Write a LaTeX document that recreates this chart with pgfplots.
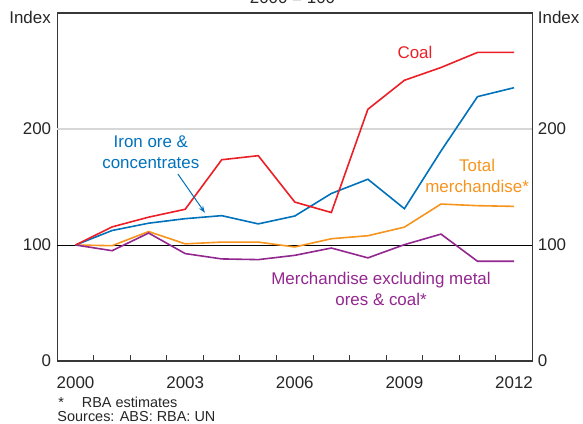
\documentclass[border=0pt]{standalone}
\usepackage{fontspec}
\setmainfont{Liberation Sans}
\usepackage{pgfplots}
\usepackage{pgfplotstable}
\usetikzlibrary{arrows.meta}
\pgfplotsset{compat=1.18}

\definecolor{rbared}{RGB}{235,32,39}
\definecolor{rbablue}{RGB}{0,114,188}
\definecolor{rbaorange}{RGB}{247,148,29}
\definecolor{rbapurple}{RGB}{146,39,143}
\definecolor{framegray}{RGB}{55,55,55}
\definecolor{gridgray}{RGB}{215,215,215}

% export price indices, 2000 = 100
\pgfplotstableread{
year coal  iron  total other
2000 100   100   100   100
2001 115.6 112.5 99.4  95.1
2002 124.0 118.8 111.6 110.3
2003 130.8 122.7 101.0 92.6
2004 173.5 125.3 102.5 88.0
2005 177.0 118.2 102.5 87.4
2006 137.0 125.0 98.3  91.1
2007 128.0 144.4 105.4 97.4
2008 217.0 156.7 108.0 88.9
2009 242.0 131.3 115.4 100.3
2010 253.0 181.0 135.3 109.4
2011 266.0 227.9 133.9 86.0
2012 266.0 235.6 133.3 86.0
}\exports

\newcommand{\lbl}{\fontsize{17}{20.6}\selectfont}
\newcommand{\foot}{\fontsize{14.5}{16}\selectfont}

\begin{document}
\begin{tikzpicture}
\begin{axis}[
  width=475bp, height=348bp, scale only axis,
  xmin=1999.5, xmax=2012.5, ymin=0, ymax=300,
  xtick={2000,2003,...,2012},
  minor xtick={1999.5,2000.5,...,2012.5},
  xtick pos=bottom, tick align=inside,
  major tick length=0pt, minor tick length=6bp,
  ytick={0,100,200}, ytick pos=left,
  axis line style={framegray, line width=1.2bp},
  tick style={framegray, line width=1bp},
  /pgf/number format/assume math mode=true,
  /pgf/number format/1000 sep={},
  ticklabel style={font=\lbl, text=black!85},
  x tick label style={inner sep=0pt, anchor=north, yshift=-15.5bp},
  y tick label style={inner sep=0pt, anchor=east, xshift=-6bp},
  clip=false,
]
\draw[gridgray, line width=1.5bp] (axis cs:1999.5,200) -- (axis cs:2012.5,200);
\draw[black, line width=1bp] (axis cs:1999.5,100) -- (axis cs:2012.5,100);

\addplot[rbaorange, line width=1.6bp] table[x=year, y=total] {\exports};
\addplot[rbapurple, line width=1.6bp] table[x=year, y=other] {\exports};
\addplot[rbablue, line width=1.6bp] table[x=year, y=iron] {\exports};
\addplot[rbared, line width=1.6bp] table[x=year, y=coal] {\exports};

\draw[rbablue, line width=1bp, -{Stealth[length=7bp,width=5bp]}] (axis cs:2002.80,161.2) -- (axis cs:2003.54,127.8);

\node[rbared, font=\lbl] at (axis cs:2009.29,266.4) {Coal};
\node[rbablue, font=\lbl, align=center] at (axis cs:2002.06,180.2) {Iron ore \&\\concentrates};
\node[rbaorange, font=\lbl, align=center] at (axis cs:2010.99,159.5) {Total\\merchandise*};
\node[rbapurple, font=\lbl, align=center] at (axis cs:2008.36,62) {Merchandise excluding metal\\ores \& coal*};

\node[font=\lbl, text=black!85, anchor=west, inner sep=0pt] at (axis cs:2012.5,0) [xshift=5.4bp] {0};
\node[font=\lbl, text=black!85, anchor=west, inner sep=0pt] at (axis cs:2012.5,100) [xshift=5.4bp] {100};
\node[font=\lbl, text=black!85, anchor=west, inner sep=0pt] at (axis cs:2012.5,200) [xshift=5.4bp] {200};
\end{axis}

\node[font=\lbl, text=black!85, anchor=base east, inner sep=0pt] at (-6.3bp,337bp) {Index};
\node[font=\lbl, text=black!85, anchor=base west, inner sep=0pt] at (480.4bp,337bp) {Index};
\node[font=\lbl, text=black!85, anchor=base, inner sep=0pt] at (235.2bp,357bp) {2000 = 100};
\node[font=\foot, text=black!85, anchor=base west, inner sep=0pt] at (1bp,-46.2bp) {*};
\node[font=\foot, text=black!85, anchor=base west, inner sep=0pt] at (24.4bp,-46.2bp) {RBA estimates};
\node[font=\foot, text=black!85, anchor=base west, inner sep=0pt] at (0bp,-60.8bp) {Sources: ABS: RBA: UN};

\pgfresetboundingbox
\useasboundingbox (-57.3bp,-63bp) rectangle (525.7bp,361bp);
\end{tikzpicture}
\end{document}
